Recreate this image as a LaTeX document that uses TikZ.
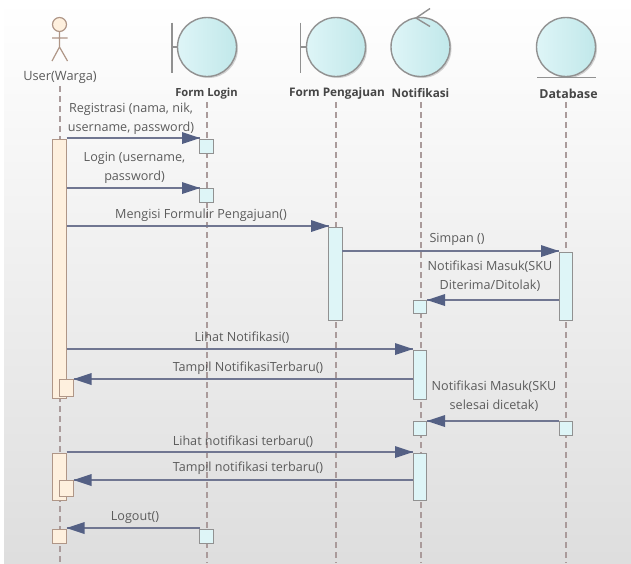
\documentclass[tikz,border=0pt]{standalone}
\usepackage{fontspec}
\setmainfont{Open Sans}
\usetikzlibrary{shadows}
\definecolor{txt}{RGB}{92,92,92}
\definecolor{hd}{RGB}{70,70,70}
\definecolor{msg}{RGB}{112,118,145}
\definecolor{tip}{RGB}{84,96,132}
\definecolor{bord}{RGB}{145,145,145}
\definecolor{bordu}{RGB}{175,150,135}
\definecolor{life}{RGB}{170,155,155}
\definecolor{cream}{RGB}{254,240,222}
\definecolor{cyan1}{RGB}{222,245,247}
\definecolor{cyan2}{RGB}{193,232,234}
\tikzset{
 lab/.style={font=\fontsize{12.6}{19}\selectfont,text=txt,align=center,inner sep=0pt},
 head/.style={font=\bfseries\fontsize{11.8}{14}\selectfont,text=hd,inner sep=0pt},
 lifeline/.style={life,line width=1.4pt,dash pattern=on 6pt off 4pt},
 acu/.style={draw=bordu,fill=cream,line width=1.4pt,minimum width=13.5pt,inner sep=0pt,anchor=north},
 acc/.style={draw=bord,fill=cyan1,line width=1.4pt,minimum width=13.5pt,inner sep=0pt,anchor=north},
 msgl/.style={msg,line width=1.6pt},
 tipfill/.style={fill=tip,draw=none},
 robust/.style={circle,minimum size=59pt,inner sep=0pt,draw=bord,line width=1.4pt,left color=cyan1,right color=cyan2,drop shadow={shadow xshift=1.5pt,shadow yshift=-1.5pt,fill=black!35,opacity=.5}},
 symb/.style={bord,line width=1.4pt}
}
\newcommand{\tiparrow}[2]{% 
 \fill[tipfill] (#1) -- ++(#2*18pt,-6pt) -- ++(0,12pt) -- cycle;}
\begin{document}
\begin{tikzpicture}[x=1pt,y=-1pt]
\useasboundingbox (0,0) rectangle (631,563);
\fill[white] (0,0) rectangle (631,563);
\shade[top color=white,bottom color=white!87!black!100] (4,0) rectangle (631,563);
% lifelines
\coordinate (t0) at (60,86); \coordinate (b0) at (60,563);
\coordinate (t1) at (207,102); \coordinate (b1) at (207,563);
\coordinate (t2) at (336,102); \coordinate (b2) at (336,563);
\coordinate (t3) at (421,102); \coordinate (b3) at (421,563);
\coordinate (t4) at (566,102); \coordinate (b4) at (566,563);
\foreach \i in {0,...,4} {\draw[lifeline] (t\i) -- (b\i);}
% actor
\node[circle,draw=bordu,fill=cream,line width=1.2pt,minimum size=14pt,inner sep=0pt] (ah) at (59.5,24.5) {};
\draw[bordu,line width=1.2pt] (ah.south) -- (59.5,47) (52,38) -- (67.5,38) (52,61) -- (59.5,47) -- (67.5,61);
\node[font=\fontsize{12.8}{14}\selectfont,text=txt,inner sep=0pt] (uw) at (60,77) {User(Warga)};
% objects
\node[robust] (c1) at (207,47) {};
\draw[symb] (c1.west) -- (172,47) (172,22.5) -- (172,73);
\node[robust] (c2) at (336,47) {};
\draw[symb] (c2.west) -- (300.5,47) (300.5,22.5) -- (300.5,73);
\node[robust] (c3) at (420.5,47) {};
\draw[symb] (430,8.5) -- (416,18) -- (430,26.5);
\node[robust] (c4) at (566,47) {};
\draw[symb] (537,77.5) -- (596,77.5);
\node[head,font=\bfseries\fontsize{11.2}{14}\selectfont] (n1) at (206.5,93.5) {Form Login};
\node[head] (n2) at (337,93.5) {Form Pengajuan};
\node[head] (n3) at (420.5,93.5) {Notifikasi};
\node[head,font=\bfseries\fontsize{12.4}{14}\selectfont] (n4) at (568.5,93.5) {Database};
% activations
\node[acu,minimum height=259pt] (u1) at (59.5,139) {};
\node[acu,minimum height=16.5pt] (u1n) at (66.5,379) {};
\node[acu,minimum height=47pt] (u2) at (59.5,452.5) {};
\node[acu,minimum height=16.5pt] (u2n) at (66.5,479.5) {};
\node[acu,minimum height=14pt] (u3) at (59.5,528.5) {};
\node[acc,minimum height=14pt] (l1) at (206.5,138.5) {};
\node[acc,minimum height=14pt] (l2) at (206.5,187.5) {};
\node[acc,minimum height=14pt] (l3) at (206.5,528.5) {};
\node[acc,minimum height=93pt] (p1) at (335.5,226.5) {};
\node[acc,minimum height=68pt] (d1) at (566,251.5) {};
\node[acc,minimum height=12.5pt] (f1) at (420,300) {};
\node[acc,minimum height=49pt] (f2) at (420,349.5) {};
\node[acc,minimum height=13.5pt] (f3) at (420,421) {};
\node[acc,minimum height=13.5pt] (d2) at (566,421) {};
\node[acc,minimum height=47pt] (f4) at (420,452.5) {};
% messages
\coordinate (a1) at (66.5,138); \coordinate (a1e) at (200,138);
\coordinate (a2) at (66.5,188); \coordinate (a2e) at (200,188);
\coordinate (a3) at (66.5,226); \coordinate (a3e) at (329,226);
\coordinate (a4) at (342,251); \coordinate (a4e) at (559,251);
\coordinate (a5) at (559,300); \coordinate (a5e) at (427,300);
\coordinate (a6) at (66.5,349); \coordinate (a6e) at (413,349);
\coordinate (a7) at (413,379); \coordinate (a7e) at (73.5,379);
\coordinate (a8) at (559,421); \coordinate (a8e) at (427,421);
\coordinate (a9) at (66.5,452); \coordinate (a9e) at (413,452);
\coordinate (a10) at (413,480); \coordinate (a10e) at (73.5,480);
\coordinate (a11) at (200,528); \coordinate (a11e) at (66.5,528);
\foreach \i in {1,2,3,4,5,6,7,8,9,10,11} {\draw[msgl] (a\i) -- (a\i e);}
\foreach \i in {1,2,3,4,6,9} {\tiparrow{a\i e}{-1}}
\foreach \i in {5,7,8,10,11} {\tiparrow{a\i e}{1}}
% labels
\node[lab] at (131,118.5) {Registrasi (nama, nik,\\username, password)};
\node[lab] at (134.5,167.5) {Login (username,\\password)};
\node[lab] at (201,215.5) {Mengisi Formulir Pengajuan()};
\node[lab] at (457,239) {Simpan ()};
\node[lab] at (490,276.5) {Notifikasi Masuk(SKU\\Diterima/Ditolak)};
\node[lab] at (242,338) {Lihat Notifikasi()};
\node[lab] at (248,368) {Tampil NotifikasiTerbaru()};
\node[lab] at (494,396) {Notifikasi Masuk(SKU\\selesai dicetak)};
\node[lab] at (243,441.5) {Lihat notifikasi terbaru()};
\node[lab] at (248,468.5) {Tampil notifikasi terbaru()};
\node[lab] at (135,518) {Logout()};
\end{tikzpicture}
\end{document}
